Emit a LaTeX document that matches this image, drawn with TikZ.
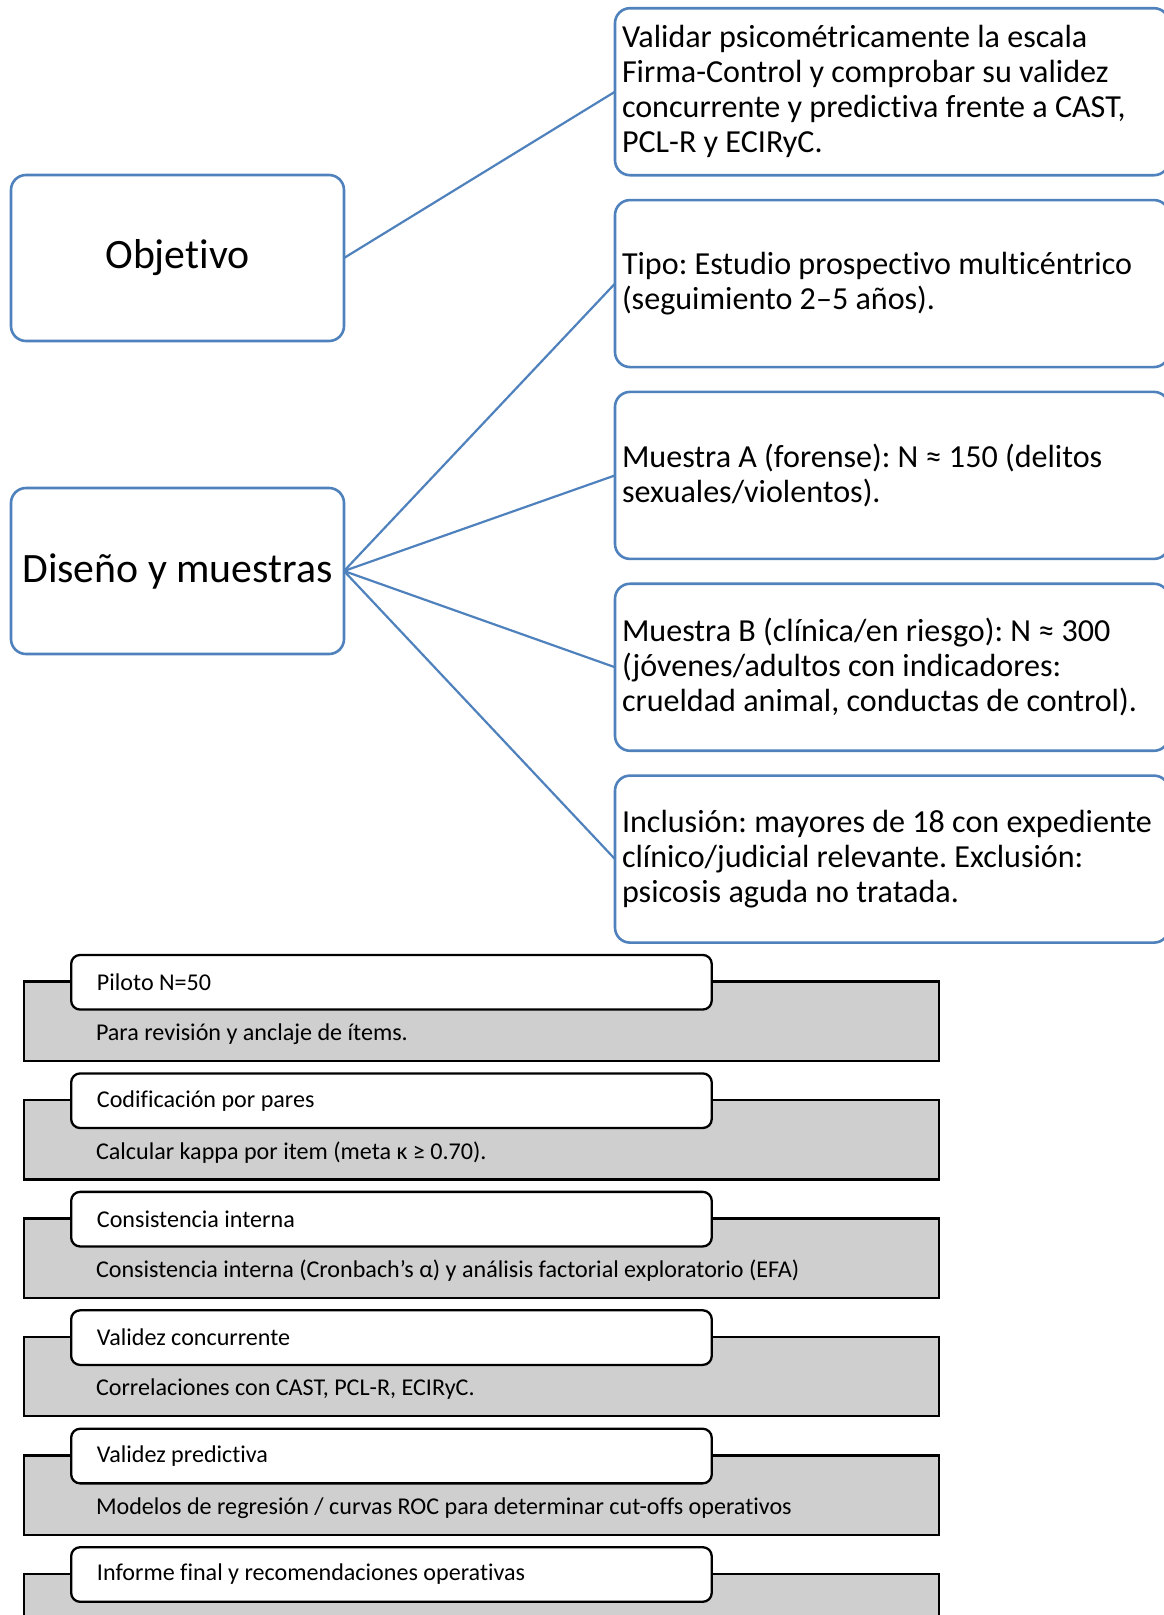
\documentclass[tikz,border=0pt]{standalone}
\usepackage{fontspec}
\setmainfont{Carlito}[Ligatures={NoCommon}]
\definecolor{sblue}{RGB}{79,129,189}
\definecolor{sgray}{RGB}{207,207,207}
\frenchspacing
\begin{document}
\frenchspacing
\begin{tikzpicture}[x=1pt,y=-1pt,
 bluebox/.style={draw=sblue, line width=2.6pt, rounded corners=15pt, fill=white, outer sep=0pt},
 leftbox/.style={bluebox, minimum width=333pt, minimum height=166pt, inner sep=0pt, font=\fontsize{41.8}{46}\selectfont},
 rightbox/.style={bluebox, anchor=north west, text width=540pt, inner xsep=7pt, inner ysep=0pt, minimum height=167pt, align=flush left, font=\fontsize{32.1}{35}\selectfont},
 link/.style={draw=sblue, line width=2.2pt},
 graybar/.style={draw=black, line width=2.3pt, fill=sgray, anchor=north west, minimum width=915.6pt, minimum height=79.3pt, inner sep=0pt, outer sep=0pt},
 tabbox/.style={draw=black, line width=2.3pt, fill=white, rounded corners=9pt, anchor=north west, text width=589pt, inner xsep=25.8pt, inner ysep=0pt, minimum height=54.6pt, align=flush left, font=\fontsize{24.1}{28}\selectfont},
 desc/.style={anchor=west, inner sep=0pt, font=\fontsize{24.1}{28}\selectfont}
]
\useasboundingbox (0,0) rectangle (1163,1615);

% left boxes
\node[leftbox] (obj) at (177.5,258) {Objetivo};
\node[leftbox] (dis) at (177.5,571) {Diseño y muestras};

% right boxes
\node[rightbox] (r1) at (615,8.2) {Validar psicométricamente la escala\\Firma-Control y comprobar su validez\\concurrente y predictiva frente a CAST,\\PCL-R y ECIRyC.};
\node[rightbox] (r2) at (615,200.05) {Tipo: Estudio prospectivo multicéntrico\\(seguimiento 2–5 años).};
\node[rightbox] (r3) at (615,391.9) {Muestra A (forense): N ≈ 150 (delitos\\sexuales/violentos).};
\node[rightbox] (r4) at (615,583.75) {Muestra B (clínica/en riesgo): N ≈ 300\\(jóvenes/adultos con indicadores:\\crueldad animal, conductas de control).};
\node[rightbox] (r5) at (615,775.6) {\mbox{Inclusión: mayores de 18 con expediente}\\clínico/judicial relevante. Exclusión:\\psicosis aguda no tratada.};

% connectors
\draw[link] (obj.east) -- (r1.west);
\draw[link] (dis.east) -- (r2.west);
\draw[link] (dis.east) -- (r3.west);
\draw[link] (dis.east) -- (r4.west);
\draw[link] (dis.east) -- (r5.west);

% bottom process list
\node[graybar] (g1) at (23.7,981.6) {};
\node[tabbox] (t1) at (70,953.8) {Piloto N=50};
\node[desc] (d1) at (95.8,1034) {Para revisión y anclaje de ítems.};

\node[graybar] (g2) at (23.7,1100.05) {};
\node[tabbox] (t2) at (70,1072.25) {Codificación por pares};
\node[desc] (d2) at (95.8,1152.45) {Calcular kappa por item (meta κ ≥ 0.70).};

\node[graybar] (g3) at (23.7,1218.5) {};
\node[tabbox] (t3) at (70,1190.7) {Consistencia interna};
\node[desc] (d3) at (95.8,1270.9) {Consistencia interna (Cronbach’s α) y análisis factorial exploratorio (EFA)};

\node[graybar] (g4) at (23.7,1336.95) {};
\node[tabbox] (t4) at (70,1309.15) {Validez concurrente};
\node[desc] (d4) at (95.8,1389.35) {Correlaciones con CAST, PCL-R, ECIRyC.};

\node[graybar] (g5) at (23.7,1455.4) {};
\node[tabbox] (t5) at (70,1427.6) {Validez predictiva};
\node[desc] (d5) at (95.8,1507.8) {Modelos de regresión / curvas ROC para determinar cut-offs operativos};

\node[graybar] (g6) at (23.7,1573.85) {};
\node[tabbox] (t6) at (70,1546.05) {Informe final y recomendaciones operativas};
\end{tikzpicture}
\end{document}
